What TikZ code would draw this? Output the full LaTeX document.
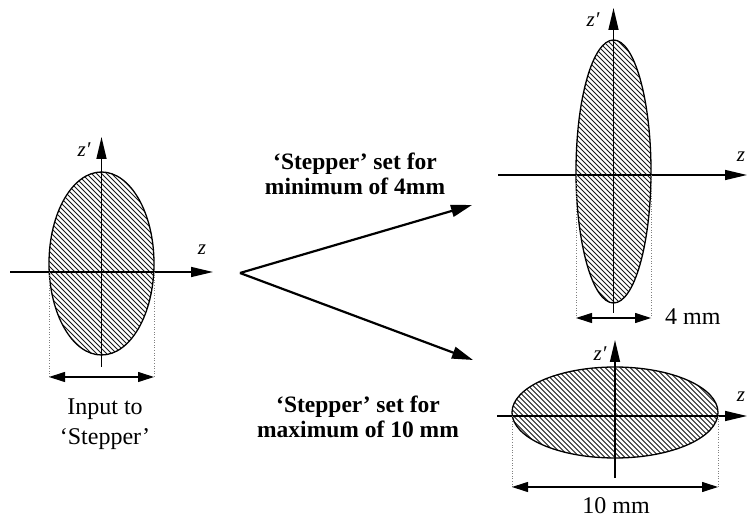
\documentclass[tikz,border=0pt]{standalone}
\usepackage{fontspec}
\setmainfont{Liberation Serif}
\usetikzlibrary{arrows.meta}
\tikzset{
  axis/.style={line width=1.5pt, -{Triangle[length=22pt,width=10pt]}},
  outline/.style={line width=1.3pt},
  hatchline/.style={line width=1pt, black!90},
  extline/.style={gray, dotted, line width=0.6pt},
  dimline/.style={line width=1.1pt, {Triangle[length=16pt,width=10pt]}-{Triangle[length=16pt,width=10pt]}},
  route/.style={line width=2.2pt, -{Triangle[length=21pt,width=12pt]}},
  lbl/.style={font=\fontsize{24}{26}\selectfont, inner sep=0pt},
  boldlbl/.style={font=\fontsize{23.5}{26}\selectfont\bfseries, inner sep=0pt},
  axlbl/.style={font=\fontsize{21}{22}\selectfont\itshape, inner sep=0pt}
}
\newcommand\myhatchellipse[4]{%
  \begin{scope}
    \clip (#1,#2) ellipse [x radius=#3, y radius=#4];
    \fill[white] (#1,#2) ellipse [x radius=#3, y radius=#4];
    \foreach \k in {-250,-245,...,250}
      \draw[hatchline] (#1+\k-200,#2-200) -- (#1+\k+200,#2+200);
  \end{scope}
  \draw[outline] (#1,#2) ellipse [x radius=#3, y radius=#4];
}
\begin{document}
\begin{tikzpicture}[x=1pt,y=-1pt]
\useasboundingbox (0,0) rectangle (747,518);

% ---------- left ellipse (input) ----------
\myhatchellipse{101.5}{263.5}{52.5}{91.5}
\coordinate (Lx0) at (10,272);   \coordinate (Lx1) at (213,272);
\coordinate (Ly0) at (101.5,367); \coordinate (Ly1) at (101.5,137);
\draw[axis] (Lx0) -- (Lx1);
\draw[axis] (Ly0) -- (Ly1);
\coordinate (Ld1) at (49,377);   \coordinate (Ld2) at (154,377);
\draw[extline] (49,272) -- (Ld1);
\draw[extline] (154,272) -- (Ld2);
\draw[dimline] (Ld1) -- (Ld2);
\node[axlbl] (Lzp) at (84,150) {z′};
\node[axlbl] (Lz) at (202,250) {z};
\node[lbl, anchor=base] (in1) at (105,415) {Input to};
\node[lbl, anchor=base] (in2) at (105,444) {‘Stepper’};

% ---------- middle arrows ----------
\coordinate (o) at (240,273);
\coordinate (up) at (472,205);
\coordinate (dn) at (473,360);
\draw[route] (o) -- (up);
\draw[route] (o) -- (dn);
\node[boldlbl, anchor=base] (t1) at (355,170) {‘Stepper’ set for};
\node[boldlbl, anchor=base] (t2) at (355,195) {minimum of 4mm};
\node[boldlbl, anchor=base] (b1) at (358,413) {‘Stepper’ set for};
\node[boldlbl, anchor=base] (b2) at (358,438) {maximum of 10 mm};

% ---------- top-right ellipse (4 mm) ----------
\myhatchellipse{613.5}{171.5}{37.5}{131.5}
\coordinate (Tx0) at (498,175);   \coordinate (Tx1) at (747,175);
\coordinate (Ty0) at (613.5,313); \coordinate (Ty1) at (613.5,8);
\draw[axis] (Tx0) -- (Tx1);
\draw[axis] (Ty0) -- (Ty1);
\coordinate (Td1) at (576,318);   \coordinate (Td2) at (651,318);
\draw[extline] (576,175) -- (Td1);
\draw[extline] (651,175) -- (Td2);
\draw[dimline] (Td1) -- (Td2);
\node[axlbl] (Tzp) at (593,20) {z′};
\node[axlbl] (Tz) at (741,157) {z};
\node[lbl, anchor=base west] (four) at (665,325) {4 mm};

% ---------- bottom-right ellipse (10 mm) ----------
\myhatchellipse{615}{412.5}{103}{45.5}
\coordinate (Bx0) at (497,416);   \coordinate (Bx1) at (747,416);
\coordinate (By0) at (615,478);   \coordinate (By1) at (615,340);
\draw[axis] (Bx0) -- (Bx1);
\draw[axis] (By0) -- (By1);
\coordinate (Bd1) at (512,487);   \coordinate (Bd2) at (718,487);
\draw[extline] (512,416) -- (Bd1);
\draw[extline] (718,416) -- (Bd2);
\draw[dimline] (Bd1) -- (Bd2);
\node[axlbl] (Bzp) at (600,354) {z′};
\node[axlbl] (Bz) at (741,397) {z};
\node[lbl, anchor=base] (ten) at (616,513) {10 mm};
\end{tikzpicture}
\end{document}
